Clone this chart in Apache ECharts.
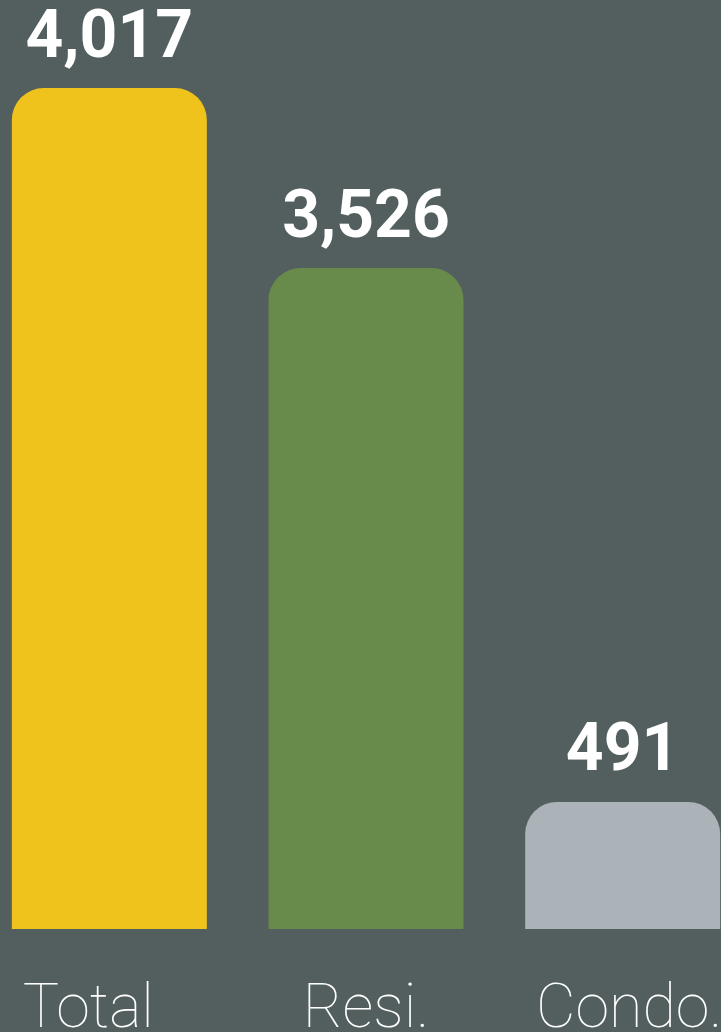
<!DOCTYPE html>
<html>
<head>
<meta charset="utf-8">
<script src="https://cdn.jsdelivr.net/npm/echarts@6/dist/echarts.min.js"></script>
<style>
  html, body { margin: 0; padding: 0; background: #535f5f; }
  #chart { width: 721px; height: 1032px; }
</style>
</head>
<body>
<div id="chart"></div>
<script>
// categories and printed totals
const categories = ['Total', 'Resi.', 'Condo.']
const counts = [4017, 3526, 491]
// bar lengths as drawn in the picture (same units as Total)
const barLengths = [4017, 3157, 607]
const colors = ['#efc31b', '#688a4a', '#abb2b8']

const chart = echarts.init(document.getElementById('chart'))

const option = {
  backgroundColor: '#535f5f',
  animation: false,
  grid: {
    left: -19,
    right: -30,
    top: 88,
    bottom: 103,
    outerBoundsMode: 'none',
    containLabel: false
  },
  xAxis: {
    type: 'category',
    data: categories.map((name, i) => ({
      value: name,
      // labels are nudged a bit off their bar centres
      textStyle: i === 0 ? { padding: [0, 42, 0, 0] } : (i === 2 ? { padding: [0, 0, 0, 13] } : {})
    })),
    axisLine: { show: false },
    axisTick: { show: false },
    axisLabel: {
      color: '#ffffff',
      fontFamily: 'Roboto',
      fontWeight: 100,
      fontSize: 61,
      margin: 52
    }
  },
  yAxis: {
    type: 'value',
    min: 0,
    max: 4017,
    show: false,
    splitLine: { show: false }
  },
  series: [
    {
      type: 'bar',
      barWidth: 195,
      clip: false,
      data: barLengths.map((v, i) => ({
        value: v,
        itemStyle: { color: colors[i] }
      })),
      itemStyle: {
        borderRadius: [32, 32, 0, 0]
      },
      label: {
        show: true,
        position: 'top',
        distance: 15,
        color: '#ffffff',
        fontFamily: 'Roboto',
        fontWeight: 'bold',
        fontSize: 66,
        formatter: (p) => counts[p.dataIndex].toLocaleString('en-US')
      }
    }
  ]
}

chart.setOption(option)
</script>
</body>
</html>
